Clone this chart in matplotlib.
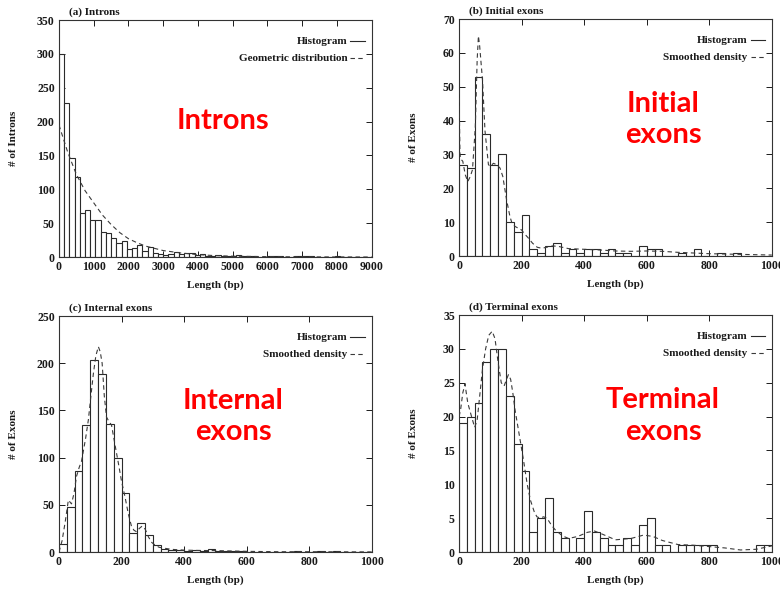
import numpy as np
import matplotlib
matplotlib.use("Agg")
import matplotlib.pyplot as plt

# ---- data ----
intron_bin = 150
intron_counts = [300, 228, 146, 118, 65, 69, 54, 54, 37, 35,
                 28, 20, 23, 12, 13, 18, 9, 15, 6, 5,
                 3, 5, 7, 4, 6, 6, 3, 4, 2, 2,
                 3, 1, 2, 1, 3, 1, 1, 1, 0, 0,
                 1, 2, 1, 0, 0, 1, 2, 2, 1, 0,
                 0, 0, 0, 1, 0, 0, 0, 0, 0, 0]
geom_x = [0, 250, 500, 750, 1000, 1250, 1500, 1750, 2000, 2250,
          2500, 3000, 3500, 4000, 4500, 5000, 6000, 7000, 8000, 9000]
geom_y = [195, 155, 122, 98, 80, 62, 48, 36, 27, 21,
          16, 9.5, 6, 3.5, 2, 1.2, 0.5, 0.2, 0.1, 0]

exon_bin = 25
initial_counts = [27, 26, 53, 36, 27, 30, 10, 7, 12, 2,
                  1, 3, 4, 1, 2, 1, 2, 2, 1, 2,
                  1, 1, 0, 3, 2, 2, 0, 0, 1, 0,
                  2, 0, 0, 1, 0, 1, 0, 0, 0, 0]
initial_x = [0, 3, 7, 12, 20, 28, 36, 43, 52, 58, 62, 66, 75, 83, 94, 100,
             110, 120, 131, 140, 152, 163, 170, 180, 190, 200, 210, 220, 235,
             250, 265, 280, 300, 320, 350, 400, 450, 500, 550, 600, 650, 700,
             750, 800, 850, 900, 950, 1000]
initial_y = [49, 30, 28.5, 28, 24, 22, 23.5, 25.5, 38, 58, 65, 62, 52, 37, 27,
             26.5, 27.4, 27, 26, 23.5, 16.6, 11.6, 9.5, 8.7, 8.2, 7.7, 6.5, 5.5,
             3.8, 2.6, 2.3, 2.6, 3, 2.8, 2.2, 2, 1.8, 1.5, 1.4, 1.5, 1.4, 1.1,
             0.9, 0.7, 0.6, 0.5, 0.4, 0.3]

internal_counts = [8, 48, 86, 135, 203, 189, 136, 100, 62, 20,
                   31, 18, 7, 3, 2, 2, 1, 2, 1, 3,
                   1, 1, 1, 1, 0, 0, 0, 0, 0, 0,
                   1, 0, 0, 1, 0, 1, 0, 0, 0, 0]
internal_x = [0, 10, 20, 30, 40, 48, 56, 65, 72, 85, 94, 102, 110, 118, 126,
              132, 138, 145, 152, 160, 168, 180, 190, 200, 211, 222, 232, 240,
              248, 257, 266, 276, 286, 297, 307, 320, 339, 360, 400, 450, 500,
              550, 600, 700, 800, 900, 1000]
internal_y = [0, 12, 32, 55, 51, 62, 80, 90, 96, 120, 140, 165, 189, 208, 217.5,
              212, 200, 165, 143, 138, 134.5, 112, 94, 75, 58.6, 40, 27, 23,
              21.5, 25, 27.5, 24, 16, 10, 7.4, 5, 3.9, 2.8, 2, 1.6, 1.5,
              1.1, 0.7, 0.3, 0.3, 0.2, 0.1]

terminal_counts = [19, 20, 22, 28, 30, 30, 23, 16, 12, 3,
                   5, 8, 3, 2, 0, 2, 6, 3, 2, 1,
                   1, 2, 1, 4, 5, 1, 1, 0, 1, 1,
                   1, 1, 1, 0, 0, 0, 0, 0, 1, 1]
terminal_x = [0, 5, 12, 19, 28, 40, 50, 58, 66, 75, 85, 95, 106, 115, 125,
              135, 144, 152, 158, 165, 172, 179, 190, 206, 218, 228, 240, 249,
              260, 270, 281, 295, 307, 330, 350, 380, 410, 433, 460, 500, 550,
              590, 620, 650, 700, 750, 800, 850, 900, 950, 1000]
terminal_y = [20, 21, 23.5, 24.8, 22, 20, 18.4, 19.5, 23, 27, 30, 32, 32.6,
              31.5, 28, 25, 24.5, 25.5, 26.2, 25.5, 23.5, 21, 18, 13.6, 10,
              7.7, 6, 5.2, 5, 5.2, 5, 4, 3.3, 2.4, 2, 2.3, 2.9, 3.1, 2.6, 1.8,
              2, 2.5, 2.3, 1.7, 1.1, 1, 0.8, 0.6, 0.3, 0.4, 0.9]

panels = [
    # title, ylabel, counts, bin, curve x, curve y, curve label, xmax, ymax, ystep, big text
    ("(a) Introns", "# of Introns", intron_counts, intron_bin, geom_x, geom_y,
     "Geometric distribution", 9000, 350, 50, "Introns"),
    ("(b) Initial exons", "# of Exons", initial_counts, exon_bin, initial_x, initial_y,
     "Smoothed density", 1000, 70, 10, "Initial\nexons"),
    ("(c) Internal exons", "# of Exons", internal_counts, exon_bin, internal_x, internal_y,
     "Smoothed density", 1000, 250, 50, "Internal\nexons"),
    ("(d) Terminal exons", "# of Exons", terminal_counts, exon_bin, terminal_x, terminal_y,
     "Smoothed density", 1000, 35, 5, "Terminal\nexons"),
]

# axes rectangles in figure fractions
rects = [
    [0.0756, 0.5644, 0.401, 0.4017],
    [0.5885, 0.5660, 0.401, 0.4017],
    [0.0756, 0.0644, 0.401, 0.4000],
    [0.5885, 0.0644, 0.401, 0.4017],
]
# big red label centers (axes fractions)
red_pos = [(0.525, 0.575), (0.652, 0.575), (0.557, 0.574), (0.652, 0.574)]

serif = "Liberation Serif"
ink = "#1a1a1a"

fig = plt.figure(figsize=(7.8, 5.9), dpi=100)

for (title, ylab, counts, bw, cx, cy, clab, xmax, ymax, ystep, big), rect, rp in zip(panels, rects, red_pos):
    ax = fig.add_axes(rect)
    edges = np.arange(len(counts)) * bw
    ax.bar(edges, counts, width=bw, align="edge", facecolor="white",
           edgecolor="#2a2a2a", linewidth=0.8, zorder=2)
    ax.plot(cx, cy, color="#3a3a3a", linewidth=0.8, dashes=(4, 3), zorder=3)

    ax.set_xlim(0, xmax)
    ax.set_ylim(0, ymax)
    ax.set_xticks(np.linspace(0, xmax, 10 if xmax == 9000 else 6))
    ax.set_yticks(np.arange(0, ymax + ystep / 2, ystep))
    ax.tick_params(direction="in", length=4, width=0.7, top=True, right=True,
                   labelsize=8.5, colors=ink, pad=3)
    for lab in ax.get_xticklabels() + ax.get_yticklabels():
        lab.set_fontfamily(serif)
        lab.set_fontweight("bold")
    for s in ax.spines.values():
        s.set_linewidth(0.8)
        s.set_color("#333333")

    ax.set_xlabel("Length (bp)", fontfamily=serif, fontweight="bold", fontsize=8, color=ink)
    ax.xaxis.set_label_coords(0.5, -0.097)
    ax.set_ylabel(ylab, fontfamily=serif, fontweight="bold", fontsize=8, color=ink)
    ax.yaxis.set_label_coords(-0.131, 0.5)
    ax.text(0.033, 1.012, title, transform=ax.transAxes, fontfamily=serif,
            fontweight="bold", fontsize=8, color=ink, ha="left", va="bottom")

    # gnuplot style key
    ax.text(0.923, 0.911, "Histogram", transform=ax.transAxes, fontfamily=serif,
            fontweight="bold", fontsize=8, color=ink, ha="right", va="center")
    ax.plot([0.932, 0.978], [0.911, 0.911], transform=ax.transAxes,
            color="#2a2a2a", linewidth=0.8)
    ax.text(0.923, 0.838, clab, transform=ax.transAxes, fontfamily=serif,
            fontweight="bold", fontsize=8, color=ink, ha="right", va="center")
    ax.plot([0.932, 0.978], [0.838, 0.838], transform=ax.transAxes,
            color="#3a3a3a", linewidth=0.8, dashes=(4, 3))

    ax.text(rp[0], rp[1], big, transform=ax.transAxes, fontfamily="Lato",
            fontweight="bold", fontsize=21, color="#ff0000", ha="center",
            va="center", linespacing=1.25, zorder=5)

fig.savefig("out.png", dpi=100)
